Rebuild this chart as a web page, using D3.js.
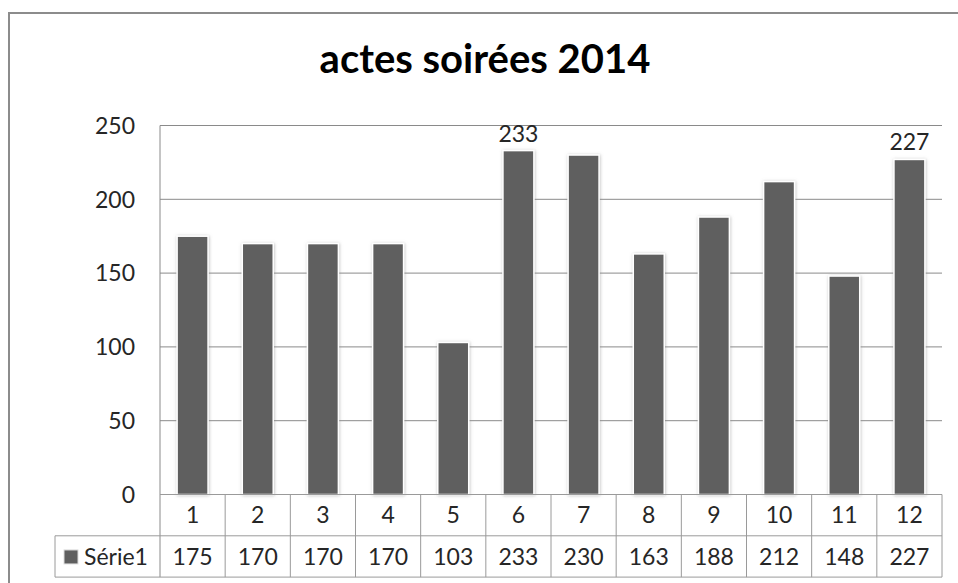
<!DOCTYPE html>
<html>
<head>
<meta charset="utf-8">
<script src="https://cdn.jsdelivr.net/npm/d3@7"></script>
<style>
  body { margin: 0; background: #fff; }
  svg { display: block; font-family: Lato, "Open Sans", sans-serif; }
</style>
</head>
<body>
<svg width="958" height="583"></svg>
<script>
// data
var titleText = "actes soirées 2014";
var seriesName = "Série1";
var categories = ["1", "2", "3", "4", "5", "6", "7", "8", "9", "10", "11", "12"];
var values = [175, 170, 170, 170, 103, 233, 230, 163, 188, 212, 148, 227];
var labelled = ["6", "12"];   // bars that carry a data label
var yTicks = [0, 50, 100, 150, 200, 250];

var svg = d3.select("svg");

// plot area
var plotLeft = 160, plotRight = 942, plotTop = 125.5, zeroY = 494.5;
var rowH = 41.3;

var x = d3.scaleBand().domain(categories).range([plotLeft, plotRight]);
var y = d3.scaleLinear().domain([0, 250]).range([zeroY, plotTop]);

// shadow for the bars
var defs = svg.append("defs");
var f = defs.append("filter").attr("id", "glow")
    .attr("x", "-30%").attr("y", "-10%").attr("width", "160%").attr("height", "120%");
f.append("feDropShadow").attr("dx", 0.5).attr("dy", 0.5)
    .attr("stdDeviation", 1.6).attr("flood-color", "#888").attr("flood-opacity", 0.55);

// outer frame
svg.append("rect")
    .attr("x", 9).attr("y", 13).attr("width", 960).attr("height", 580)
    .attr("fill", "none").attr("stroke", "#8c8c8c").attr("stroke-width", 2);

// title
svg.append("text")
    .attr("x", 485).attr("y", 73)
    .attr("text-anchor", "middle")
    .attr("font-size", 40).attr("font-weight", "bold")
    .attr("fill", "#000")
    .text(titleText);

// gridlines
svg.append("g").selectAll("line")
    .data(yTicks.filter(function(d) { return d > 0; }))
    .enter().append("line")
    .attr("x1", plotLeft).attr("x2", plotRight)
    .attr("y1", function(d) { return y(d); })
    .attr("y2", function(d) { return y(d); })
    .attr("stroke", "#8a8a8a").attr("stroke-width", 1);

// y axis labels
svg.append("g").selectAll("text")
    .data(yTicks)
    .enter().append("text")
    .attr("x", 135)
    .attr("y", function(d) { return y(d); })
    .attr("dy", "0.36em")
    .attr("text-anchor", "end")
    .attr("font-size", 23)
    .attr("fill", "#262626")
    .text(function(d) { return d; });

// bars
var barW = x.bandwidth() * 0.475;
svg.append("g").selectAll("rect")
    .data(values)
    .enter().append("rect")
    .attr("x", function(d, i) { return x(categories[i]) + (x.bandwidth() - barW) / 2; })
    .attr("y", function(d) { return y(d); })
    .attr("width", barW)
    .attr("height", function(d) { return zeroY - y(d); })
    .attr("fill", "#5f5f5f")
    .attr("stroke", "#fff").attr("stroke-width", 1.5)
    .attr("filter", "url(#glow)");

// data labels
svg.append("g").selectAll("text")
    .data(values.map(function(v, i) { return {c: categories[i], v: v}; })
        .filter(function(d) { return labelled.indexOf(d.c) >= 0; }))
    .enter().append("text")
    .attr("x", function(d) { return x(d.c) + x.bandwidth() / 2; })
    .attr("y", function(d) { return y(d.v) - 9; })
    .attr("text-anchor", "middle")
    .attr("font-size", 23)
    .attr("fill", "#262626")
    .text(function(d) { return d.v; });

// y axis line
svg.append("line")
    .attr("x1", plotLeft).attr("x2", plotLeft)
    .attr("y1", plotTop).attr("y2", zeroY + 2 * rowH)
    .attr("stroke", "#8a8a8a");

// data table
var tbl = svg.append("g").attr("stroke", "#9a9a9a").attr("fill", "none");
tbl.append("line").attr("x1", plotLeft).attr("x2", plotRight).attr("y1", zeroY).attr("y2", zeroY);
tbl.append("line").attr("x1", 55).attr("x2", plotRight).attr("y1", zeroY + rowH).attr("y2", zeroY + rowH);
tbl.append("line").attr("x1", 55).attr("x2", plotRight).attr("y1", zeroY + 2 * rowH).attr("y2", zeroY + 2 * rowH);
tbl.append("line").attr("x1", 55).attr("x2", 55).attr("y1", zeroY + rowH).attr("y2", zeroY + 2 * rowH);
tbl.selectAll(".col")
    .data(categories)
    .enter().append("line")
    .attr("class", "col")
    .attr("x1", function(d) { return x(d) + x.bandwidth(); })
    .attr("x2", function(d) { return x(d) + x.bandwidth(); })
    .attr("y1", zeroY).attr("y2", zeroY + 2 * rowH);

// category row
svg.append("g").selectAll("text")
    .data(categories)
    .enter().append("text")
    .attr("x", function(d) { return x(d) + x.bandwidth() / 2; })
    .attr("y", zeroY + rowH / 2)
    .attr("dy", "0.36em")
    .attr("text-anchor", "middle")
    .attr("font-size", 23)
    .attr("fill", "#262626")
    .text(function(d) { return d; });

// values row
svg.append("g").selectAll("text")
    .data(values)
    .enter().append("text")
    .attr("x", function(d, i) { return x(categories[i]) + x.bandwidth() / 2; })
    .attr("y", zeroY + rowH * 1.5)
    .attr("dy", "0.36em")
    .attr("text-anchor", "middle")
    .attr("font-size", 23)
    .attr("fill", "#262626")
    .text(function(d) { return d; });

// legend key in table
svg.append("rect")
    .attr("x", 64).attr("y", zeroY + rowH * 1.5 - 6.5)
    .attr("width", 14).attr("height", 14)
    .attr("fill", "#5f5f5f").attr("stroke", "#ddd").attr("stroke-width", 1);
svg.append("text")
    .attr("x", 84).attr("y", zeroY + rowH * 1.5)
    .attr("dy", "0.36em")
    .attr("font-size", 23)
    .attr("fill", "#262626")
    .text(seriesName);
</script>
</body>
</html>
